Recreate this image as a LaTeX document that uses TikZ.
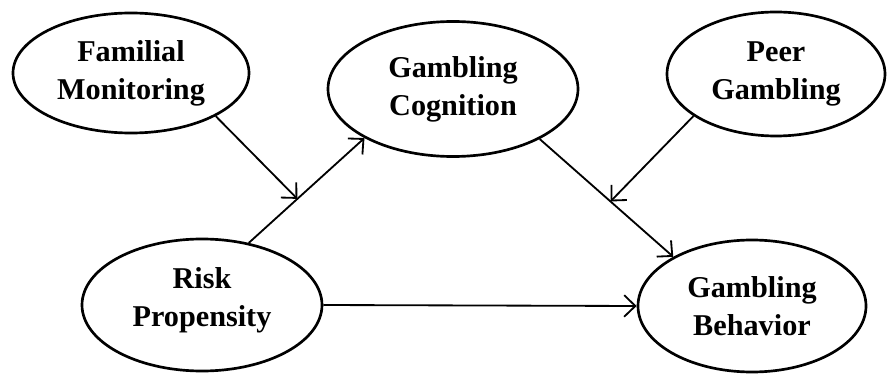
\documentclass[tikz,border=0pt]{standalone}
\usepackage{fontspec}
\setmainfont{Liberation Serif}
\usepackage{tikz}
\usetikzlibrary{shapes.geometric, arrows}
\usetikzlibrary{arrows.meta}
\tikzstyle{latent} = [ellipse, draw=black, line width=1.9pt, inner sep=0pt, text centered, align=center, font=\fontsize{21.5}{27}\selectfont\bfseries, minimum height=3.2cm]
\tikzstyle{arrow} = [line width=1.3pt, -{Straight Barb[length=2.8mm, width=5.4mm, line width=1.3pt]}]

\begin{document}
\begin{tikzpicture}[node distance=5.8cm]
\useasboundingbox (0,0) rectangle (22.2,9.35);

\node (fam) [latent, minimum width=5.9cm, minimum height=3.0cm] at (3.275,7.525) {Familial\\Monitoring};
\node (risk) [latent, below of=fam, xshift=1.775cm, minimum width=6.0cm, minimum height=3.3cm, text depth=0.4cm] {Risk\\Propensity};
\node (cog) [latent, right of=fam, xshift=2.25cm, yshift=-0.4cm, minimum width=6.25cm, minimum height=3.375cm] {Gambling\\Cognition};
\node (peer) [latent, right of=cog, xshift=2.275cm, yshift=0.375cm, minimum width=5.45cm, minimum height=3.1cm] {Peer\\Gambling};
\node (beh) [latent, below of=peer, xshift=-0.6cm, minimum width=5.7cm, minimum height=3.3cm] {Gambling\\Behavior};

\draw [arrow] (risk.53) -- coordinate[pos=0.42] (m1) (cog.209);
\draw [arrow] (cog.330) -- coordinate[pos=0.53] (m2) (beh.148);
\draw [arrow] (fam.333) -- (m1);
\draw [arrow] (peer.207) -- (m2);
\draw [arrow] (risk.east) -- (beh.west);

\end{tikzpicture}
\end{document}
